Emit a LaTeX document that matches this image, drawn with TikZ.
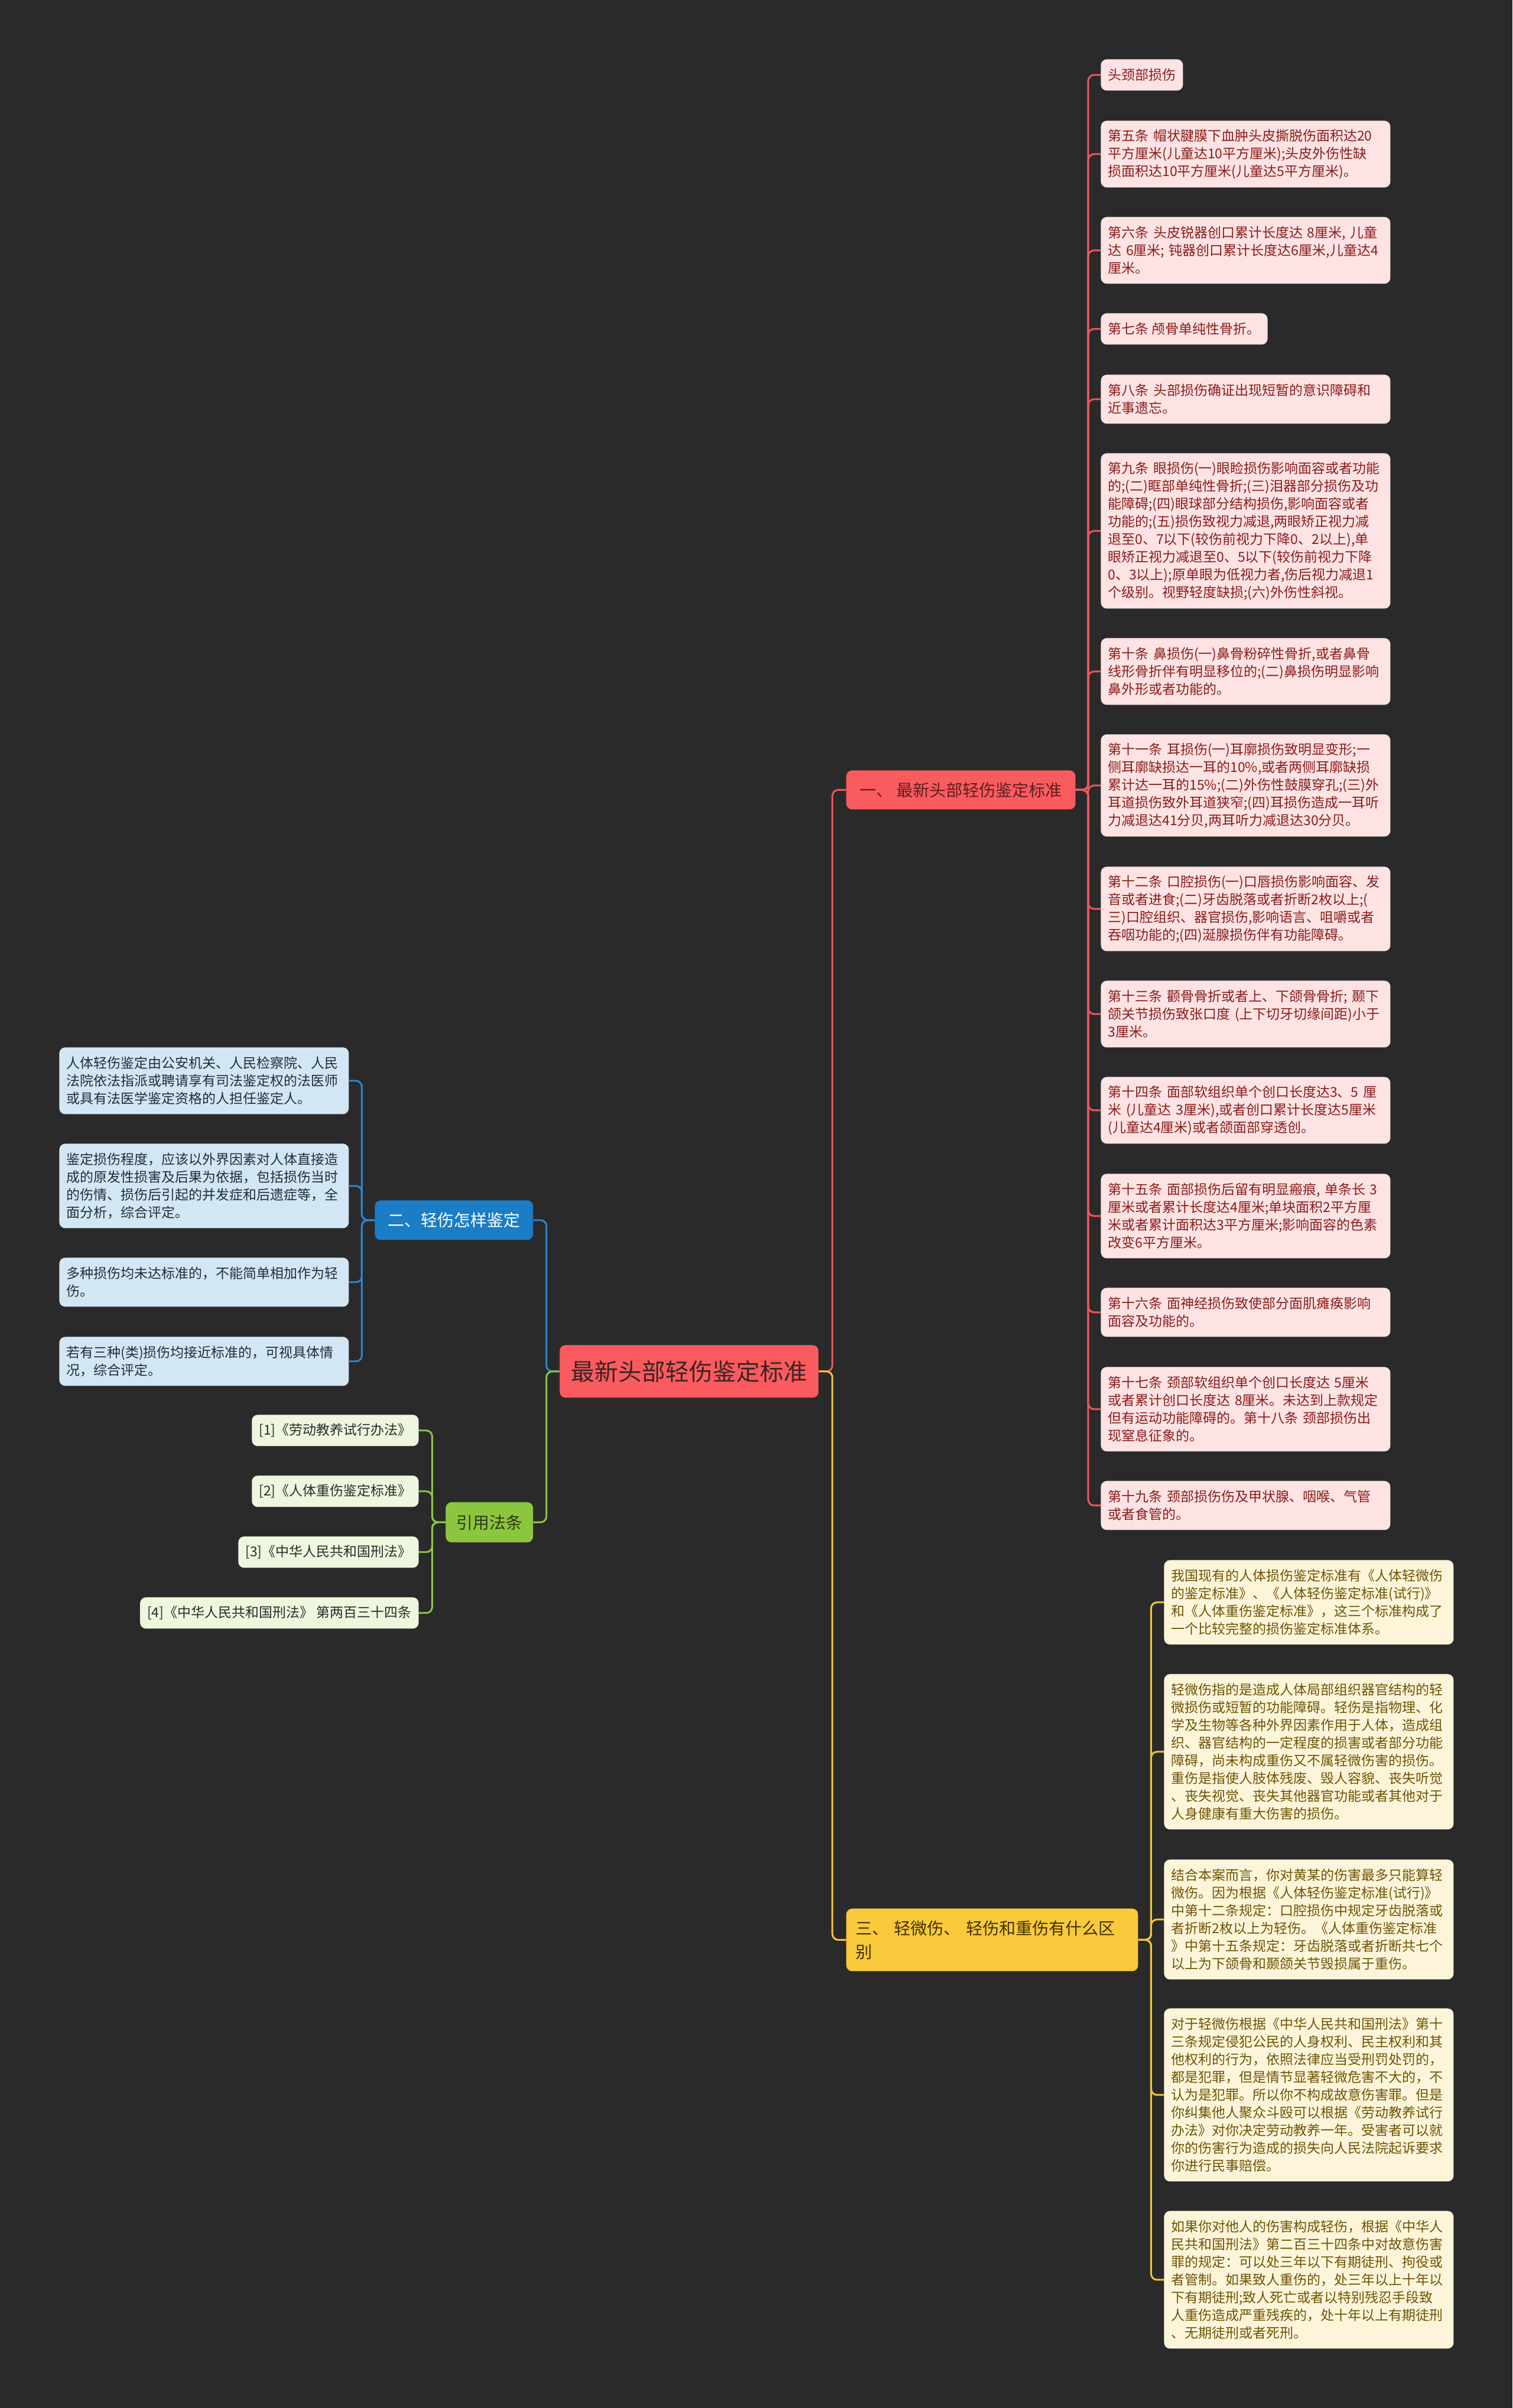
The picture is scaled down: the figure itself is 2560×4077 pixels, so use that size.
\documentclass[tikz,border=0pt]{standalone}
\usepackage{fontspec}
\setmainfont{Noto Sans CJK SC}
\usetikzlibrary{calc}
\definecolor{bgc}{HTML}{2A2A2A}
\definecolor{mainfill}{HTML}{FA5B5F}
\definecolor{maintext}{HTML}{3B2424}
\definecolor{b1text}{HTML}{5C1F1F}
\definecolor{pinkfill}{HTML}{FDE3E3}
\definecolor{pinktext}{HTML}{8A1C1C}
\definecolor{redline}{HTML}{F0575B}
\definecolor{ynode}{HTML}{F9C93C}
\definecolor{ynodetext}{HTML}{3F3000}
\definecolor{yfill}{HTML}{FDF5DA}
\definecolor{ytext}{HTML}{6E5406}
\definecolor{yline}{HTML}{F4C535}
\definecolor{bnode}{HTML}{1A7DC6}
\definecolor{bfill}{HTML}{D3E6F4}
\definecolor{btext}{HTML}{1E2E3E}
\definecolor{bline}{HTML}{2A86D2}
\definecolor{gnode}{HTML}{8CC63E}
\definecolor{gnodetext}{HTML}{2C3A14}
\definecolor{gfill}{HTML}{EEF6DE}
\definecolor{gtext}{HTML}{2B2B2B}
\definecolor{gline}{HTML}{8CC63E}
\tikzset{
  box/.style={anchor=north west, rounded corners=5pt, inner xsep=6pt, inner ysep=1pt, font=\fontsize{11.5}{15}\selectfont},
  wide/.style={box, text width=233pt, align=left},
  nl/.style={minimum height={(30*#1+23)*0.5pt}},
  pinkbox/.style={wide, fill=pinkfill, text=pinktext},
  pinkshort/.style={box, fill=pinkfill, text=pinktext},
  ybox/.style={wide, fill=yfill, text=ytext},
  bbox/.style={wide, fill=bfill, text=btext},
  gbox/.style={box, anchor=north east, fill=gfill, text=gtext, minimum height=26.5pt},
  bigbox/.style={anchor=north west, rounded corners=5pt, inner sep=2pt, font=\fontsize{14}{20}\selectfont},
  conn/.style={line width=1.5pt, rounded corners=5pt},
}
\newcommand{\link}[3]{\draw[conn,#1] (#2) -| ($(#2)!0.5!(#3)$) |- (#3);}
\begin{document}
\begin{tikzpicture}[x=0.5pt,y=-0.5pt]
\fill[bgc] (0,0) rectangle (2560,4077);
\useasboundingbox (0,0) rectangle (2560,4077);

% main
\node[anchor=north west, rounded corners=5pt, fill=mainfill, text=maintext, minimum width=219pt, minimum height=44.5pt, inner sep=2pt, font=\fontsize{20}{24}\selectfont] (main) at (947,2277) {最新头部轻伤鉴定标准};

% branches
\node[bigbox, fill=mainfill, text=b1text, minimum width=194pt, minimum height=33pt] (b1) at (1432,1304) {一、 最新头部轻伤鉴定标准};
\node[bigbox, fill=ynode, text=ynodetext, text width=231pt, inner xsep=8pt, align=left, minimum height=53pt] (b3) at (1432,3231) {三、 轻微伤、 轻伤和重伤有什么区\\别};
\node[bigbox, fill=bnode, text=white, minimum width=134pt, minimum height=33.5pt] (b2) at (634,2032) {二、轻伤怎样鉴定};
\node[bigbox, fill=gnode, text=gnodetext, minimum width=74pt, minimum height=34pt] (g) at (754,2543) {引用法条};

% pink children
\node[pinkshort, nl=1] (p1) at (1863,100) {头颈部损伤};
\node[pinkbox, nl=3] (p2) at (1863,204) {第五条 帽状腱膜下血肿头皮撕脱伤面积达20\\平方厘米(儿童达10平方厘米);头皮外伤性缺\\损面积达10平方厘米(儿童达5平方厘米)。};
\node[pinkbox, nl=3] (p3) at (1863,367) {第六条 头皮锐器创口累计长度达 8厘米, 儿童\\达 6厘米; 钝器创口累计长度达6厘米,儿童达4\\厘米。};
\node[pinkshort, nl=1] (p4) at (1863,530) {第七条 颅骨单纯性骨折。};
\node[pinkbox, nl=2] (p5) at (1863,634) {第八条 头部损伤确证出现短暂的意识障碍和\\近事遗忘。};
\node[pinkbox, nl=8] (p6) at (1863,767) {第九条 眼损伤(一)眼睑损伤影响面容或者功能\\的;(二)眶部单纯性骨折;(三)泪器部分损伤及功\\能障碍;(四)眼球部分结构损伤,影响面容或者\\功能的;(五)损伤致视力减退,两眼矫正视力减\\退至0、7以下(较伤前视力下降0、2以上),单\\眼矫正视力减退至0、5以下(较伤前视力下降\\0、3以上);原单眼为低视力者,伤后视力减退1\\个级别。视野轻度缺损;(六)外伤性斜视。};
\node[pinkbox, nl=3] (p7) at (1863,1080) {第十条 鼻损伤(一)鼻骨粉碎性骨折,或者鼻骨\\线形骨折伴有明显移位的;(二)鼻损伤明显影响\\鼻外形或者功能的。};
\node[pinkbox, nl=5] (p8) at (1863,1243) {第十一条 耳损伤(一)耳廓损伤致明显变形;一\\侧耳廓缺损达一耳的10\%,或者两侧耳廓缺损\\累计达一耳的15\%;(二)外伤性鼓膜穿孔;(三)外\\耳道损伤致外耳道狭窄;(四)耳损伤造成一耳听\\力减退达41分贝,两耳听力减退达30分贝。};
\node[pinkbox, nl=4] (p9) at (1863,1467) {第十二条 口腔损伤(一)口唇损伤影响面容、发\\音或者进食;(二)牙齿脱落或者折断2枚以上;(\\三)口腔组织、器官损伤,影响语言、咀嚼或者\\吞咽功能的;(四)涎腺损伤伴有功能障碍。};
\node[pinkbox, nl=3] (p10) at (1863,1660) {第十三条 颧骨骨折或者上、下颌骨骨折; 颞下\\颌关节损伤致张口度 (上下切牙切缘间距)小于\\3厘米。};
\node[pinkbox, nl=3] (p11) at (1863,1823) {第十四条 面部软组织单个创口长度达3、5 厘\\米 (儿童达 3厘米),或者创口累计长度达5厘米\\(儿童达4厘米)或者颌面部穿透创。};
\node[pinkbox, nl=4] (p12) at (1863,1987) {第十五条 面部损伤后留有明显瘢痕, 单条长 3\\厘米或者累计长度达4厘米;单块面积2平方厘\\米或者累计面积达3平方厘米;影响面容的色素\\改变6平方厘米。};
\node[pinkbox, nl=2] (p13) at (1863,2180) {第十六条 面神经损伤致使部分面肌瘫痪影响\\面容及功能的。};
\node[pinkbox, nl=4] (p14) at (1863,2314) {第十七条 颈部软组织单个创口长度达 5厘米\\或者累计创口长度达 8厘米。未达到上款规定\\但有运动功能障碍的。第十八条 颈部损伤出\\现窒息征象的。};
\node[pinkbox, nl=2] (p15) at (1863,2507) {第十九条 颈部损伤伤及甲状腺、咽喉、气管\\或者食管的。};

% yellow children
\node[ybox, nl=4] (y1) at (1970,2641) {我国现有的人体损伤鉴定标准有《人体轻微伤\\的鉴定标准》、《人体轻伤鉴定标准(试行)》\\和《人体重伤鉴定标准》，这三个标准构成了\\一个比较完整的损伤鉴定标准体系。};
\node[ybox, nl=8] (y2) at (1970,2834) {轻微伤指的是造成人体局部组织器官结构的轻\\微损伤或短暂的功能障碍。轻伤是指物理、化\\学及生物等各种外界因素作用于人体，造成组\\织、器官结构的一定程度的损害或者部分功能\\障碍，尚未构成重伤又不属轻微伤害的损伤。\\重伤是指使人肢体残废、毁人容貌、丧失听觉\\、丧失视觉、丧失其他器官功能或者其他对于\\人身健康有重大伤害的损伤。};
\node[ybox, nl=6] (y3) at (1970,3148) {结合本案而言，你对黄某的伤害最多只能算轻\\微伤。因为根据《人体轻伤鉴定标准(试行)》\\中第十二条规定：口腔损伤中规定牙齿脱落或\\者折断2枚以上为轻伤。《人体重伤鉴定标准\\》中第十五条规定：牙齿脱落或者折断共七个\\以上为下颌骨和颞颌关节毁损属于重伤。};
\node[ybox, nl=9] (y4) at (1970,3400) {对于轻微伤根据《中华人民共和国刑法》第十\\三条规定侵犯公民的人身权利、民主权利和其\\他权利的行为，依照法律应当受刑罚处罚的，\\都是犯罪，但是情节显著轻微危害不大的，不\\认为是犯罪。所以你不构成故意伤害罪。但是\\你纠集他人聚众斗殴可以根据《劳动教养试行\\办法》对你决定劳动教养一年。受害者可以就\\你的伤害行为造成的损失向人民法院起诉要求\\你进行民事赔偿。};
\node[ybox, nl=7] (y5) at (1970,3743) {如果你对他人的伤害构成轻伤，根据《中华人\\民共和国刑法》第二百三十四条中对故意伤害\\罪的规定：可以处三年以下有期徒刑、拘役或\\者管制。如果致人重伤的，处三年以上十年以\\下有期徒刑;致人死亡或者以特别残忍手段致\\人重伤造成严重残疾的，处十年以上有期徒刑\\、无期徒刑或者死刑。};

% blue children
\node[bbox, nl=3] (c1) at (100,1773) {人体轻伤鉴定由公安机关、人民检察院、人民\\法院依法指派或聘请享有司法鉴定权的法医师\\或具有法医学鉴定资格的人担任鉴定人。};
\node[bbox, nl=4] (c2) at (100,1936) {鉴定损伤程度，应该以外界因素对人体直接造\\成的原发性损害及后果为依据，包括损伤当时\\的伤情、损伤后引起的并发症和后遗症等，全\\面分析，综合评定。};
\node[bbox, nl=2] (c3) at (100,2129) {多种损伤均未达标准的，不能简单相加作为轻\\伤。};
\node[bbox, nl=2] (c4) at (100,2263) {若有三种(类)损伤均接近标准的，可视具体情\\况，综合评定。};

% green children
\node[gbox] (r1) at (709,2395) {[1]《劳动教养试行办法》};
\node[gbox] (r2) at (709,2498) {[2]《人体重伤鉴定标准》};
\node[gbox] (r3) at (709,2601) {[3]《中华人民共和国刑法》};
\node[gbox] (r4) at (709,2704) {[4]《中华人民共和国刑法》 第两百三十四条};

% connectors
\link{redline}{main.east}{b1.west}
\link{yline}{main.east}{b3.west}
\link{bline}{main.west}{b2.east}
\link{gline}{main.west}{g.east}
\foreach \c in {p1,p2,p3,p4,p5,p6,p7,p8,p9,p10,p11,p12,p13,p14,p15}{\link{redline}{b1.east}{\c.west}}
\foreach \c in {y1,y2,y3,y4,y5}{\link{yline}{b3.east}{\c.west}}
\foreach \c in {c1,c2,c3,c4}{\link{bline}{b2.west}{\c.east}}
\foreach \c in {r1,r2,r3,r4}{\link{gline}{g.west}{\c.east}}
\end{tikzpicture}
\end{document}
